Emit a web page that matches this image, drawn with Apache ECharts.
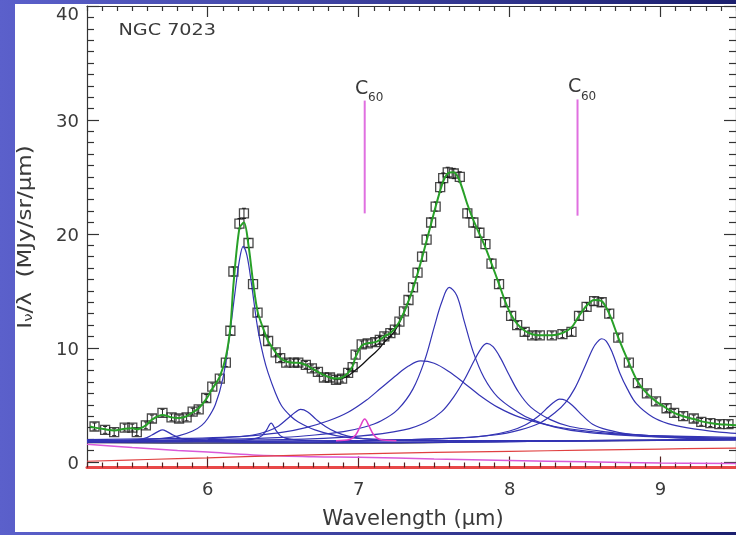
<!DOCTYPE html>
<html><head><meta charset="utf-8">
<script src="https://cdn.jsdelivr.net/npm/echarts@6/dist/echarts.min.js"></script>
<style>html,body{margin:0;padding:0;background:#fff}#chart{width:736px;height:535px}</style>
</head><body><div id="chart"></div>
<script>
// NGC 7023 mid-IR spectrum: observed points, PAH band decomposition and C60 bands

// observed spectrum: [wavelength (um), I_nu/lambda, error]
const observed = [
  [5.25,3.1,0.3],[5.32,2.8,0.3],[5.38,2.6,0.3],[5.45,3.0,0.3],[5.50,3.0,0.3],[5.53,2.6,0.3],
  [5.59,3.2,0.3],[5.63,3.8,0.3],[5.70,4.3,0.3],[5.76,3.9,0.3],[5.81,3.8,0.3],[5.86,3.9,0.3],
  [5.90,4.4,0.3],[5.94,4.6,0.3],[5.99,5.6,0.3],[6.03,6.6,0.3],[6.08,7.3,0.3],[6.12,8.7,0.35],
  [6.15,11.5,0.35],[6.17,16.7,0.4],[6.21,20.9,0.45],[6.24,21.8,0.45],[6.27,19.2,0.4],[6.30,15.6,0.4],
  [6.33,13.1,0.35],[6.37,11.5,0.35],[6.40,10.6,0.35],[6.45,9.6,0.3],[6.48,9.1,0.3],[6.52,8.7,0.3],
  [6.57,8.7,0.3],[6.60,8.7,0.3],[6.65,8.5,0.3],[6.69,8.2,0.3],[6.73,7.9,0.3],[6.77,7.4,0.3],
  [6.81,7.4,0.3],[6.85,7.2,0.3],[6.89,7.3,0.3],[6.93,7.8,0.3],[6.96,8.3,0.3],[6.98,9.4,0.3],
  [7.02,10.3,0.3],[7.06,10.4,0.3],[7.11,10.5,0.3],[7.14,10.7,0.3],[7.17,11.0,0.3],[7.21,11.3,0.3],
  [7.24,11.6,0.3],[7.27,12.3,0.3],[7.30,13.2,0.3],[7.33,14.2,0.35],[7.36,15.3,0.35],[7.39,16.6,0.35],
  [7.42,18.0,0.4],[7.45,19.5,0.4],[7.48,21.0,0.4],[7.51,22.4,0.4],[7.54,24.1,0.45],[7.56,24.9,0.45],
  [7.59,25.4,0.45],[7.63,25.3,0.45],[7.67,25.0,0.45],[7.72,21.8,0.4],[7.76,21.0,0.4],[7.80,20.1,0.4],
  [7.84,19.1,0.4],[7.88,17.4,0.4],[7.93,15.6,0.35],[7.97,14.0,0.35],[8.01,12.8,0.35],[8.05,12.0,0.3],
  [8.10,11.4,0.3],[8.15,11.1,0.3],[8.20,11.1,0.3],[8.28,11.1,0.3],[8.35,11.2,0.3],[8.41,11.4,0.3],
  [8.46,12.8,0.35],[8.51,13.6,0.35],[8.56,14.1,0.35],[8.61,14.0,0.35],[8.66,13.0,0.35],[8.72,10.9,0.3],
  [8.79,8.7,0.3],[8.85,6.9,0.3],[8.91,6.0,0.3],[8.97,5.3,0.3],[9.04,4.7,0.3],[9.09,4.3,0.3],
  [9.15,4.0,0.3],[9.22,3.8,0.3],[9.27,3.5,0.3],[9.33,3.4,0.3],[9.39,3.3,0.3],[9.45,3.3,0.3]
];

// total model (green)
const fitTotal = [
  [5.22,3.1],[5.25,3.0],[5.32,2.85],[5.38,2.75],[5.45,2.9],[5.50,2.95],[5.53,2.85],[5.59,3.2],[5.63,3.7],
  [5.70,4.1],[5.76,3.9],[5.81,3.85],[5.86,4.0],[5.90,4.35],[5.94,4.7],[5.99,5.5],[6.03,6.4],
  [6.08,7.5],[6.12,9.2],[6.15,11.8],[6.17,15.5],[6.21,20.5],[6.24,21.0],[6.27,19.0],[6.30,15.8],
  [6.33,13.2],[6.37,11.6],[6.40,10.6],[6.45,9.6],[6.48,9.1],[6.52,8.8],[6.57,8.7],[6.60,8.7],
  [6.65,8.5],[6.69,8.2],[6.73,7.9],[6.77,7.6],[6.81,7.4],[6.85,7.3],[6.89,7.4],[6.93,7.8],
  [6.96,8.4],[6.98,9.2],[7.02,10.2],[7.06,10.4],[7.11,10.5],[7.14,10.7],[7.17,11.0],[7.21,11.3],
  [7.24,11.7],[7.27,12.3],[7.30,13.1],[7.33,14.1],[7.36,15.2],[7.39,16.5],[7.42,17.9],[7.45,19.4],
  [7.48,20.9],[7.51,22.4],[7.54,23.8],[7.56,24.6],[7.59,25.3],[7.63,25.4],[7.67,24.6],[7.72,22.6],
  [7.76,21.2],[7.80,20.0],[7.84,18.8],[7.88,17.4],[7.93,15.6],[7.97,14.1],[8.01,12.9],[8.05,12.1],
  [8.10,11.5],[8.15,11.2],[8.20,11.1],[8.28,11.1],[8.35,11.3],[8.41,11.8],[8.46,12.8],[8.51,13.7],
  [8.56,14.2],[8.61,14.1],[8.66,13.0],[8.72,10.9],[8.79,8.7],[8.85,7.0],[8.91,6.0],[8.97,5.3],
  [9.04,4.7],[9.09,4.3],[9.15,4.0],[9.22,3.75],[9.27,3.55],[9.33,3.4],[9.39,3.3],[9.45,3.25],[9.5,3.2]
];

// model without the 7.0 um C60 band (black)
const fitNoC60 = [
  [6.60,8.7],[6.65,8.5],[6.69,8.2],[6.73,7.9],[6.77,7.6],[6.81,7.4],[6.85,7.25],[6.89,7.3],
  [6.93,7.55],[6.96,7.85],[6.98,8.05],[7.02,8.5],[7.06,9.0],[7.11,9.6],[7.14,10.0],[7.17,10.5],
  [7.21,11.0],[7.24,11.5],[7.27,12.2],[7.30,13.1],[7.33,14.1]
];

// continuum components
const contTotal = [[5.2,1.7],[6.0,1.65],[7.0,1.65],[8.0,1.8],[9.0,1.9],[9.5,1.95]];
const contWarm  = [[5.2,0.05],[5.6,0.2],[6.0,0.35],[6.5,0.55],[7.0,0.7],[7.5,0.82],[8.0,0.92],[8.5,1.02],[9.0,1.12],[9.5,1.2]];
const contStar  = [[5.2,1.55],[5.5,1.25],[5.8,1.0],[6.0,0.85],[6.3,0.6],[6.7,0.45],[7.0,0.4],[7.5,0.25],[8.0,0.12],[8.5,0.0],[9.0,-0.1],[9.5,-0.15]];

// PAH bands on top of the continuum
const band57 = [[5.2,1.75],[5.4,1.8],[5.5,1.88],[5.58,2.05],[5.63,2.35],[5.67,2.65],[5.7,2.8],[5.73,2.65],[5.77,2.35],[5.82,2.05],[5.9,1.85],[6.0,1.77],[6.5,1.68],[7.5,1.7],[8.5,1.85],[9.5,1.95]];
const band62 = [[5.2,1.8],[5.5,1.9],[5.7,2.05],[5.8,2.25],[5.9,2.7],[5.96,3.2],[6.0,3.8],[6.05,5.0],[6.1,7.3],[6.14,10.6],[6.18,14.8],[6.21,17.7],[6.235,18.9],[6.26,18.1],[6.29,15.6],[6.33,11.8],[6.37,9.2],[6.4,7.8],[6.45,6.0],[6.49,4.9],[6.55,4.0],[6.6,3.5],[6.71,2.8],[6.85,2.3],[7.0,2.05],[7.3,1.9],[8.0,1.85],[9.0,1.9],[9.5,1.95]];
const band64 = [[5.2,1.75],[6.0,1.8],[6.25,1.9],[6.32,2.05],[6.36,2.3],[6.39,2.8],[6.42,3.4],[6.45,2.8],[6.48,2.3],[6.52,2.05],[6.6,1.9],[6.8,1.8],[7.5,1.72],[8.5,1.85],[9.5,1.95]];
const band66 = [[5.2,1.8],[5.8,1.9],[6.1,2.1],[6.3,2.35],[6.4,2.7],[6.47,3.15],[6.53,3.8],[6.58,4.35],[6.615,4.6],[6.66,4.4],[6.72,3.7],[6.78,3.1],[6.85,2.6],[6.93,2.25],[7.05,2.0],[7.3,1.85],[8.0,1.8],[9.5,1.95]];
const band74 = [[5.2,1.95],[5.8,2.05],[6.1,2.15],[6.3,2.3],[6.5,2.6],[6.65,3.0],[6.8,3.6],[6.93,4.35],[7.05,5.4],[7.15,6.5],[7.25,7.6],[7.33,8.4],[7.41,8.85],[7.5,8.65],[7.6,7.9],[7.7,6.9],[7.8,5.85],[7.92,4.8],[8.07,3.9],[8.3,3.1],[8.51,2.7],[8.75,2.4],[8.95,2.3],[9.5,2.15]];
const band76 = [[5.2,1.85],[6.0,1.95],[6.5,2.15],[6.71,2.35],[6.9,2.65],[7.04,3.05],[7.15,3.6],[7.26,4.6],[7.36,6.4],[7.44,9.0],[7.5,11.8],[7.55,14.0],[7.6,15.3],[7.65,14.6],[7.7,12.3],[7.76,9.6],[7.83,7.4],[7.92,5.7],[8.05,4.4],[8.15,3.7],[8.3,3.05],[8.5,2.6],[8.8,2.3],[9.2,2.1],[9.5,2.05]];
const band78 = [[5.2,1.8],[6.5,1.95],[7.0,2.25],[7.3,2.8],[7.45,3.5],[7.55,4.4],[7.63,5.7],[7.7,7.2],[7.77,9.0],[7.82,10.1],[7.85,10.4],[7.89,10.1],[7.94,9.1],[7.99,7.8],[8.06,6.1],[8.14,4.8],[8.27,3.7],[8.4,3.1],[8.6,2.7],[8.73,2.5],[9.0,2.25],[9.5,2.05]];
const band83 = [[5.2,1.75],[7.0,1.85],[7.6,2.05],[7.85,2.3],[8.0,2.7],[8.1,3.2],[8.19,4.0],[8.26,4.85],[8.3,5.3],[8.33,5.5],[8.37,5.4],[8.42,4.9],[8.48,4.1],[8.55,3.3],[8.65,2.8],[8.8,2.4],[9.1,2.1],[9.5,2.0]];
const band86 = [[5.2,1.75],[7.0,1.85],[7.6,2.05],[7.9,2.35],[8.07,2.8],[8.2,3.4],[8.3,4.3],[8.37,5.2],[8.43,6.4],[8.49,8.1],[8.55,9.9],[8.58,10.5],[8.61,10.8],[8.64,10.6],[8.68,9.6],[8.73,7.8],[8.78,6.4],[8.84,5.1],[8.95,3.9],[9.05,3.35],[9.17,3.0],[9.39,2.6],[9.5,2.5]];
const pahBands = [band57, band62, band64, band66, band74, band76, band78, band83, band86];

// C60 7.0 um band
const c60Band = [[6.85,1.85],[6.94,1.95],[6.98,2.35],[7.01,3.1],[7.04,3.75],[7.07,3.1],[7.1,2.35],[7.14,1.95],[7.25,1.85]];

// C60 band markers: [wavelength, line bottom, line top]
const c60Marks = [[7.04,21.8,31.7],[8.45,21.6,31.8]];

// axis ticks
const xMajor = [6, 7, 8, 9];
const yMajor = [0, 10, 20, 30, 40];
const xMinor = [];
for (let i = 52; i <= 95; i++) if (i % 10) xMinor.push(i / 10);
const yMinor = [];
for (let i = 0; i <= 40; i++) if (i % 10) yMinor.push(i);

const FONT = 'DejaVu Sans';
const TXT = '#3a3a3a';
const AX = '#333';

const chart = echarts.init(document.getElementById('chart'), null, {renderer: 'canvas'});

function xAx(pos, ticks, len, showLine, extra) {
  return Object.assign({
    type: 'value', min: 5.2, max: 9.5, position: pos,
    axisLine: {show: showLine, onZero: false, lineStyle: {color: AX, width: 1.2}},
    axisTick: {show: true, inside: true, length: len, customValues: ticks, lineStyle: {color: AX, width: 1.2}},
    axisLabel: {show: false},
    splitLine: {show: false}
  }, extra || {});
}
function yAx(pos, ticks, len, showLine, extra) {
  return Object.assign({
    type: 'value', min: -0.5, max: 40, position: pos,
    axisLine: {show: showLine, onZero: false, lineStyle: {color: AX, width: 1.2}},
    axisTick: {show: true, inside: true, length: len, customValues: ticks, lineStyle: {color: AX, width: 1.2}},
    axisLabel: {show: false},
    splitLine: {show: false}
  }, extra || {});
}

const lineBase = {type: 'line', showSymbol: false, symbol: 'none', silent: true, animation: false, xAxisIndex: 0, yAxisIndex: 0};

const series = [];
series.push(Object.assign({}, lineBase, {data: contStar, smooth: 0.4, lineStyle: {color: '#d95ad9', width: 1.5}}));
series.push(Object.assign({}, lineBase, {data: contWarm, smooth: 0.4, lineStyle: {color: '#e04040', width: 1.2}}));
series.push(Object.assign({}, lineBase, {data: contTotal, smooth: 0.4, lineStyle: {color: '#2e2e55', width: 1.5}}));
pahBands.forEach(b => series.push(Object.assign({}, lineBase, {
  data: b, smooth: 0.35, lineStyle: {color: '#3434b4', width: 1.2}
})));
series.push(Object.assign({}, lineBase, {data: c60Band, smooth: 0.35, lineStyle: {color: '#e040c8', width: 1.5}}));
series.push(Object.assign({}, lineBase, {data: fitNoC60, smooth: 0.3, lineStyle: {color: '#111', width: 1.3}}));
series.push(Object.assign({}, lineBase, {data: fitTotal, smooth: 0.3, lineStyle: {color: '#28a028', width: 2}}));
// error bars
series.push({
  type: 'custom', silent: true, animation: false, data: observed,
  encode: {x: 0, y: 1},
  renderItem: function (params, api) {
    const x = api.value(0), v = api.value(1), e = api.value(2);
    const lo = api.coord([x, v - e]), hi = api.coord([x, v + e]);
    const st = {stroke: '#222', lineWidth: 1};
    return {type: 'group', children: [
      {type: 'line', shape: {x1: lo[0], y1: lo[1], x2: hi[0], y2: hi[1]}, style: st},
      {type: 'line', shape: {x1: lo[0] - 2, y1: lo[1], x2: lo[0] + 2, y2: lo[1]}, style: st},
      {type: 'line', shape: {x1: hi[0] - 2, y1: hi[1], x2: hi[0] + 2, y2: hi[1]}, style: st}
    ]};
  }
});
// observed points as open squares
series.push({
  type: 'scatter', silent: true, animation: false, data: observed.map(p => [p[0], p[1]]),
  symbol: 'rect', symbolSize: 9,
  itemStyle: {color: 'rgba(0,0,0,0)', borderColor: '#1a1a1a', borderWidth: 1.3}
});
// C60 band markers
series.push({
  type: 'custom', silent: true, animation: false, data: c60Marks, clip: false,
  encode: {x: 0, y: 2},
  renderItem: function (params, api) {
    const x = api.value(0);
    const b = api.coord([x, api.value(1)]), t = api.coord([x, api.value(2)]);
    return {type: 'group', children: [
      {type: 'line', shape: {x1: b[0], y1: b[1], x2: t[0], y2: t[1]}, style: {stroke: '#e070e0', lineWidth: 2}},
      {type: 'text', style: {text: 'C', x: t[0] - 3, y: t[1] - 12, align: 'center', verticalAlign: 'middle', fontSize: 19, fontFamily: FONT, fill: TXT}},
      {type: 'text', style: {text: '60', x: t[0] + 11, y: t[1] - 3, align: 'center', verticalAlign: 'middle', fontSize: 12, fontFamily: FONT, fill: TXT}}
    ]};
  }
});

const option = {
  animation: false,
  backgroundColor: 'transparent',
  grid: {left: 87, top: 6, right: -4, bottom: 67.5, containLabel: false},
  graphic: [
    {type: 'rect', z: -10, silent: true, shape: {x: 0, y: 0, width: 736, height: 535},
      style: {fill: new echarts.graphic.LinearGradient(0, 0, 1, 0, [{offset: 0, color: '#5b60cb'}, {offset: 1, color: '#1b1f6e'}])}},
    {type: 'rect', z: -9, silent: true, shape: {x: 15, y: 4, width: 721, height: 528}, style: {fill: '#fff'}},
    {type: 'text', z: 10, silent: true, x: 148, y: 31, scaleX: 1.2, originX: 148,
      style: {text: 'NGC 7023', fontSize: 16, fontFamily: FONT, fill: TXT, verticalAlign: 'middle', align: 'left'}},
    {type: 'text', z: 10, silent: true, x: 413, y: 520,
      style: {text: 'Wavelength (μm)', fontSize: 21, fontFamily: FONT, fill: TXT, align: 'center', verticalAlign: 'middle'}},
    {type: 'text', z: 10, silent: true, x: 23, y: 237, rotation: Math.PI / 2, scaleX: 1.15,
      style: {text: '{a|I}{s|ν}{a|/λ  (MJy/sr/μm)}', align: 'center', verticalAlign: 'middle',
        rich: {a: {fontSize: 20, fontFamily: FONT, fill: TXT, lineHeight: 25, verticalAlign: 'bottom'},
               s: {fontSize: 13, fontFamily: FONT, fill: TXT, lineHeight: 14, verticalAlign: 'bottom'}}}}
  ],
  xAxis: [
    xAx('bottom', xMajor, 11, true, {
      axisLine: {show: true, onZero: false, lineStyle: {color: '#e84848', width: 3}},
      axisTick: {show: true, inside: true, length: 11, customValues: xMajor, lineStyle: {color: '#552020', width: 1.2}},
      axisLabel: {show: true, customValues: xMajor, margin: 14, fontSize: 18, fontFamily: FONT, color: TXT}
    }),
    xAx('bottom', xMinor, 5, false, {axisTick: {show: true, inside: true, length: 5, customValues: xMinor, lineStyle: {color: '#552020', width: 1.2}}}),
    xAx('top', xMajor, 11, true),
    xAx('top', xMinor, 5, false)
  ],
  yAxis: [
    yAx('left', yMajor, 12, true, {
      axisLabel: {show: true, customValues: yMajor, margin: 8, fontSize: 18, fontFamily: FONT, color: TXT,
        formatter: v => v === 40 ? '{t|40}' : '{n|' + v + '}',
        rich: {t: {fontSize: 18, fontFamily: FONT, color: TXT, padding: [18, 0, 0, 0]},
               n: {fontSize: 18, fontFamily: FONT, color: TXT, padding: [5, 0, 0, 0]}}}
    }),
    yAx('left', yMinor, 7, false),
    yAx('right', yMajor, 12, true),
    yAx('right', yMinor, 7, false)
  ],
  series: series
};
chart.setOption(option);
</script></body></html>
